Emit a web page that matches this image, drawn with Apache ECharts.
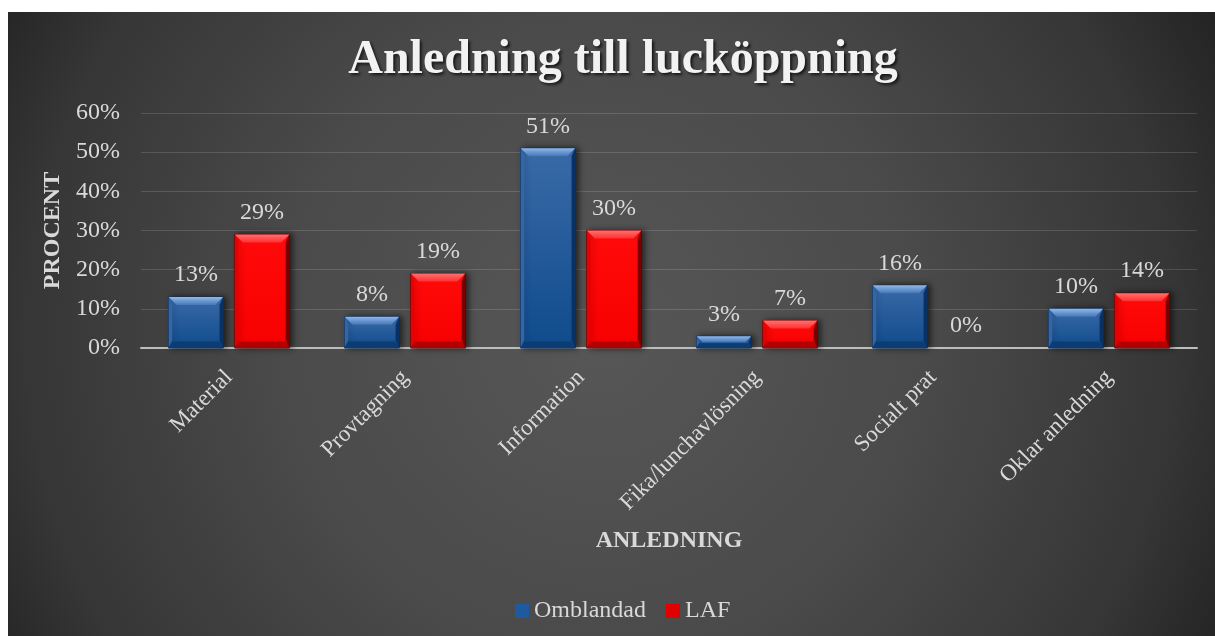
<!DOCTYPE html>
<html>
<head>
<meta charset="utf-8">
<script src="https://cdn.jsdelivr.net/npm/echarts@6/dist/echarts.min.js"></script>
<style>
  html, body { margin: 0; padding: 0; background: #ffffff; }
  #chart { position: absolute; left: 8px; top: 12px; width: 1207px; height: 624px; }
</style>
</head>
<body>
<div id="chart"></div>
<script>
// Reasons for opening the service hatch, share of all openings per group
const categories = ['Material', 'Provtagning', 'Information', 'Fika/lunchavlösning', 'Socialt prat', 'Oklar anledning'];
const omblandad = [13, 8, 51, 3, 16, 10];
const laf = [29, 19, 30, 7, 0, 14];
const yTicks = [0, 10, 20, 30, 40, 50, 60];

const FONT = '"Liberation Serif", "Times New Roman", serif';
const TEXT = '#d9d9d9';
const BAR_FRAC = 0.31;   // bar width as a share of the category band
const OFFSET = 0.188;    // bar centre offset from the band centre

const palettes = {
  blue: {
    faceTop: '#3a6aa8', faceBottom: '#0f4b8c',
    bevelTop: '#8fb8ea', bevelTop2: '#4576b6',
    left: '#3465a5', right: '#0a3163', bottom: '#0b3c74', stroke: '#0a2e5a'
  },
  red: {
    faceTop: '#ff0a0a', faceBottom: '#f70000',
    bevelTop: '#ff7070', bevelTop2: '#ff3030',
    left: '#e80000', right: '#7a0000', bottom: '#b00000', stroke: '#600000'
  }
};

function bevelBar(offsetFrac, pal) {
  return function (params, api) {
    const idx = api.value(0);
    const val = api.value(1);
    const base = api.coord([idx, 0]);
    const top = api.coord([idx, val]);
    const band = api.size([1, 0])[0];
    const w = band * BAR_FRAC;
    const cx = base[0] + offsetFrac * band;
    const x = cx - w / 2;
    const y = top[1];
    const h = base[1] - top[1];
    const children = [];
    if (h > 0.5) {
      const b = Math.min(8, h / 2, w / 2);
      children.push({
        type: 'rect',
        shape: { x: x, y: y, width: w, height: h },
        style: {
          fill: new echarts.graphic.LinearGradient(0, 0, 0, 1, [
            { offset: 0, color: pal.faceTop }, { offset: 1, color: pal.faceBottom }
          ]),
          stroke: pal.stroke, lineWidth: 1,
          shadowBlur: 6, shadowOffsetX: 3, shadowOffsetY: 0, shadowColor: 'rgba(0,0,0,0.6)'
        }
      });
      children.push({
        type: 'polygon',
        shape: { points: [[x, y], [x + w, y], [x + w - b, y + b], [x + b, y + b]] },
        style: {
          fill: new echarts.graphic.LinearGradient(0, 0, 0, 1, [
            { offset: 0, color: pal.bevelTop }, { offset: 1, color: pal.bevelTop2 }
          ])
        }
      });
      children.push({
        type: 'polygon',
        shape: { points: [[x, y], [x + b * 0.45, y + b], [x + b * 0.45, y + h - b], [x, y + h]] },
        style: { fill: pal.left }
      });
      children.push({
        type: 'polygon',
        shape: { points: [[x + w, y], [x + w - b * 0.45, y + b], [x + w - b * 0.45, y + h - b], [x + w, y + h]] },
        style: { fill: pal.right }
      });
      children.push({
        type: 'polygon',
        shape: { points: [[x, y + h], [x + b * 0.45, y + h - b * 0.8], [x + w - b * 0.45, y + h - b * 0.8], [x + w, y + h]] },
        style: { fill: pal.bottom }
      });
    }
    children.push({
      type: 'text',
      style: {
        text: val + '%', x: cx, y: y - 10,
        align: 'center', verticalAlign: 'bottom',
        fill: TEXT, fontSize: 24, fontFamily: FONT
      }
    });
    return { type: 'group', children: children };
  };
}

const chart = echarts.init(document.getElementById('chart'), null, { renderer: 'canvas' });

chart.setOption({
  animation: false,
  backgroundColor: {
    type: 'radial', x: 0.49, y: 0.52, r: 1.15,
    colorStops: [
      { offset: 0, color: '#575757' },
      { offset: 0.45, color: '#4a4a4a' },
      { offset: 0.8, color: '#363636' },
      { offset: 1, color: '#202020' }
    ]
  },
  title: {
    text: 'Anledning till lucköppning',
    left: 610, top: 20, textAlign: 'center',
    textStyle: {
      color: '#f2f2f2', fontFamily: FONT, fontWeight: 'bold', fontSize: 48,
      textShadowColor: 'rgba(0,0,0,0.7)', textShadowBlur: 3, textShadowOffsetX: 2, textShadowOffsetY: 2
    }
  },
  legend: {
    data: [
      { name: 'Omblandad', icon: 'rect' },
      { name: 'LAF', icon: 'rect' }
    ],
    left: 502, top: 582,
    itemWidth: 14, itemHeight: 14, itemGap: 20,
    textStyle: { color: TEXT, fontFamily: FONT, fontSize: 24 }
  },
  grid: { left: 133, right: 18, top: 101, bottom: 288, containLabel: false },
  xAxis: {
    type: 'category',
    data: categories,
    name: 'ANLEDNING',
    nameLocation: 'middle',
    nameGap: 181,
    nameTextStyle: { color: TEXT, fontFamily: FONT, fontSize: 24, fontWeight: 'bold' },
    axisLine: { lineStyle: { color: '#bdbdbd', width: 2 } },
    axisTick: { show: false },
    axisLabel: { rotate: 45, margin: 26, color: TEXT, fontFamily: FONT, fontSize: 23, interval: 0 }
  },
  yAxis: {
    type: 'value',
    min: yTicks[0], max: yTicks[yTicks.length - 1], interval: yTicks[1] - yTicks[0],
    name: 'PROCENT',
    nameLocation: 'middle',
    nameRotate: 90,
    nameGap: 75,
    nameTextStyle: { color: TEXT, fontFamily: FONT, fontSize: 24, fontWeight: 'bold' },
    axisLine: { show: false },
    axisTick: { show: false },
    axisLabel: { margin: 21, color: TEXT, fontFamily: FONT, fontSize: 24, formatter: '{value}%' },
    splitLine: { lineStyle: { color: 'rgba(255,255,255,0.14)', width: 1 } }
  },
  series: [
    {
      name: 'Omblandad', type: 'custom', clip: false,
      itemStyle: { color: '#1d5aa0' },
      encode: { x: 0, y: 1 },
      data: omblandad.map(function (v, i) { return [i, v]; }),
      renderItem: bevelBar(-OFFSET, palettes.blue)
    },
    {
      name: 'LAF', type: 'custom', clip: false,
      itemStyle: { color: '#e00000' },
      encode: { x: 0, y: 1 },
      data: laf.map(function (v, i) { return [i, v]; }),
      renderItem: bevelBar(OFFSET, palettes.red)
    }
  ]
});
</script>
</body>
</html>
